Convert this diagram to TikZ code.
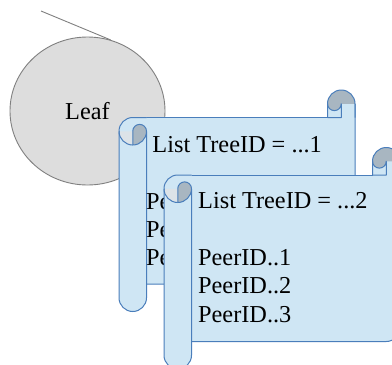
\documentclass[tikz,border=0pt]{standalone}
\usepackage{fontspec}
\setmainfont{Liberation Serif}
\usetikzlibrary{shapes.geometric}

\definecolor{paper}{HTML}{CFE6F4}
\definecolor{paperline}{HTML}{4A7EBB}
\definecolor{curl}{HTML}{A8B6C1}
\definecolor{curlpale}{HTML}{DCE3E8}
\definecolor{leaffill}{HTML}{DDDDDD}
\definecolor{leafline}{HTML}{808080}

\tikzset{
  leafnode/.style={ellipse, fill=leaffill, draw=leafline, line width=0.9pt,
    minimum width=155pt, minimum height=148pt, inner sep=0pt},
  tail/.style={draw=leafline, line width=0.9pt},
  rollline/.style={draw=paperline, line width=1pt, line join=round},
  label/.style={anchor=base west, inner sep=0pt, font=\fontsize{24.3}{28.4}\selectfont},
}

% A paper scroll with its top-left corner at (#1,#2), screen coordinates in px.
% Local frame: x right, y down; roll size c = 27.5, h = c/2, q = c/4.
\newcommand\paperscroll[2]{%
\begin{scope}[shift={(#1,-#2)}, yscale=-1]
  % sheet
  \path[fill=paper] (0,41.25) arc[start angle=180,end angle=270,radius=13.75]
    -- (208.5,27.5) -- (208.5,13.75) arc[start angle=180,end angle=360,radius=13.75]
    -- (236,180.25) arc[start angle=0,end angle=90,radius=13.75] -- (0,194) -- cycle;
  \draw[rollline] (13.75,27.5) -- (208.5,27.5);
  \draw[rollline] (236,13.75) -- (236,180.25) arc[start angle=0,end angle=90,radius=13.75] -- (27.5,194);
  % top-right roll
  \fill[curl] (208.5,13.75) arc[start angle=180,end angle=360,radius=13.75]
    -- (222.25,13.75) arc[start angle=0,end angle=180,radius=6.875] -- cycle;
  \draw[rollline] (208.5,27.5) -- (208.5,13.75) arc[start angle=180,end angle=360,radius=13.75] -- (236,27.5);
  \draw[rollline] (208.5,27.5) -- (222.25,27.5) -- (222.25,13.75) arc[start angle=0,end angle=180,radius=6.875];
  % left roll
  \fill[paper] (0,41.25) arc[start angle=180,end angle=270,radius=13.75]
    -- (27.5,27.5) -- (27.5,207.75) arc[start angle=0,end angle=180,radius=13.75] -- cycle;
  \fill[curlpale] (13.75,55) arc[start angle=90,end angle=180,radius=13.75] -- (13.75,41.25) -- cycle;
  \draw[rollline] (13.75,55) arc[start angle=90,end angle=180,radius=13.75];
  \draw[rollline, fill=curl] (13.75,41.25) arc[start angle=180,end angle=360,radius=6.875]
    arc[start angle=0,end angle=90,radius=13.75] -- cycle;
  \draw[rollline] (27.5,41.25) -- (27.5,207.75) arc[start angle=0,end angle=180,radius=13.75]
    -- (0,41.25) arc[start angle=180,end angle=270,radius=13.75] -- (27.5,27.5);
\end{scope}}

\begin{document}
\begin{tikzpicture}[x=1pt, y=1pt]
  \clip (0,0) rectangle (392,-365);
  \fill[white] (0,0) rectangle (392,-365);

  % leaf and its edge
  \node[leafnode] (leaf) at (87.5,-111) {\fontsize{24.3}{28.4}\selectfont Leaf};
  \coordinate (up) at (41,-11);
  \draw[tail] (up) -- (leaf.72);

  % first list
  \paperscroll{119}{90}
  \node[label] (listA) at (152.3,-152.7) {List TreeID = ...1};
  \node[label] (peerA1) at (146,-209.3) {PeerID..1};
  \node[label] (peerA2) at (146,-237.3) {PeerID..2};
  \node[label] (peerA3) at (146,-265.3) {PeerID..3};

  % second list
  \paperscroll{164}{147.5}
  \node[label] (listB) at (198,-208.3) {List TreeID = ...2};
  \node[label] (peerB1) at (198,-265) {PeerID..1};
  \node[label] (peerB2) at (198,-293.5) {PeerID..2};
  \node[label] (peerB3) at (198,-322) {PeerID..3};
\end{tikzpicture}
\end{document}
